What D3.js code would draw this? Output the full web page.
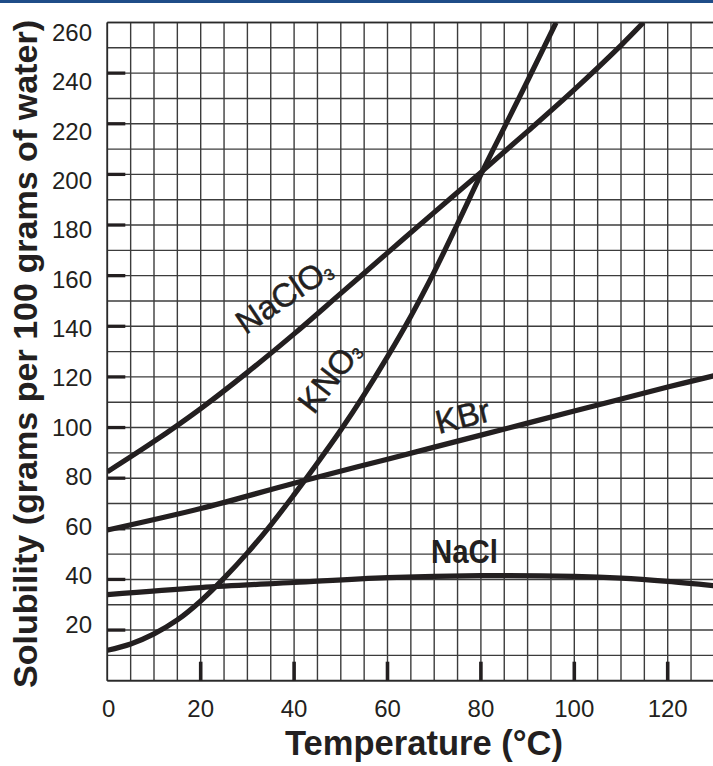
<!DOCTYPE html>
<html><head><meta charset="utf-8">
<script src="https://cdn.jsdelivr.net/npm/d3@7"></script>
<style>
body{margin:0;background:#fff}
svg{display:block}
text{font-family:"Liberation Sans",Arial,Helvetica,sans-serif;fill:#231f20}
</style>
</head><body>
<svg id="chart" width="713" height="766"></svg>
<script>
// ---------- data ----------
const xTickValues = [0, 20, 40, 60, 80, 100, 120];
const yTickValues = [20, 40, 60, 80, 100, 120, 140, 160, 180, 200, 220, 240, 260];

const naclo3Temp = [0, 10, 20, 30, 40, 50, 60, 70, 80, 90, 100, 110, 114.8];
const naclo3Sol  = [82.5, 94.5, 107.5, 121.8, 137, 153, 169, 185, 200.8, 217, 233.5, 251, 260];

const kno3Temp = [0, 5, 10, 15, 20, 25, 30, 35, 40, 45, 50, 55, 60, 65, 70, 75, 80, 85, 90, 96.1];
const kno3Sol  = [12, 14.5, 18.5, 24, 31.5, 40.5, 50.5, 61.5, 73.5, 86, 99, 113, 128, 144, 161.5, 180.5, 200, 218.5, 237, 260];

const kbrTemp = [0, 20, 40, 60, 80, 100, 120, 130];
const kbrSol  = [59.5, 68, 78, 87.5, 97, 106.5, 116, 120.5];

const naclTemp = [0, 20, 40, 60, 80, 100, 110, 120, 130];
const naclSol  = [34, 36.8, 38.8, 40.7, 41.5, 41.2, 40.5, 39.2, 37.5];

const xTitle = "Temperature (°C)";
const yTitle = "Solubility (grams per 100 grams of water)";

// ---------- drawing ----------
const ink = "#231f20";
const svg = d3.select("#chart");

const x = d3.scaleLinear().domain([0, 130]).range([107.3, 714.4]);
const y = d3.scaleLinear().domain([0, 260]).range([680.7, 22.5]);
// label positions of the printed y tick numbers (slightly different spacing in the original)
const yLab = d3.scaleLinear().domain([20, 260]).range([625, 32.5]);

// top blue band
svg.append("rect").attr("x", 0).attr("y", 0).attr("width", 713).attr("height", 3).attr("fill", "#1f4d88");

// grid
const grid = svg.append("g").attr("stroke", "#3c3c3c").attr("stroke-width", 1.4);
grid.selectAll("line.v").data(d3.range(0, 131, 5)).join("line")
  .attr("x1", d => x(d)).attr("x2", d => x(d))
  .attr("y1", y(0)).attr("y2", y(260));
grid.selectAll("line.h").data(d3.range(0, 261, 10)).join("line")
  .attr("class", "h")
  .attr("x1", x(0)).attr("x2", x(130))
  .attr("y1", d => y(d)).attr("y2", d => y(d));
// frame (left, bottom, top)
svg.append("line").attr("x1", x(0)).attr("x2", x(0)).attr("y1", y(0)).attr("y2", y(260)).attr("stroke", "#2a2a2a").attr("stroke-width", 1.7);
svg.append("line").attr("x1", x(0)).attr("x2", x(130)).attr("y1", y(0)).attr("y2", y(0)).attr("stroke", "#2a2a2a").attr("stroke-width", 1.8);
svg.append("line").attr("x1", x(0)).attr("x2", x(130)).attr("y1", y(260)).attr("y2", y(260)).attr("stroke", "#2a2a2a").attr("stroke-width", 1.6);

// tick marks inside the plot
svg.append("g").selectAll("line").data(yTickValues.filter(v => v < 260)).join("line")
  .attr("x1", x(0)).attr("x2", x(0) + 18)
  .attr("y1", d => y(d)).attr("y2", d => y(d))
  .attr("stroke", ink).attr("stroke-width", 3.3);
svg.append("g").selectAll("line").data(xTickValues.filter(v => v > 0)).join("line")
  .attr("x1", d => x(d)).attr("x2", d => x(d))
  .attr("y1", y(0)).attr("y2", y(0) - 19)
  .attr("stroke", ink).attr("stroke-width", 3.6);

// tick labels
svg.append("g").selectAll("text").data(yTickValues).join("text")
  .attr("x", 92).attr("y", d => yLab(d) + 8.3)
  .attr("text-anchor", "end").attr("font-size", 24).text(d => d);
svg.append("g").selectAll("text").data(xTickValues).join("text")
  .attr("x", d => x(d) + (d === 0 ? 1.5 : 0)).attr("y", 717)
  .attr("text-anchor", "middle").attr("font-size", 24).text(d => d);

// axis titles
svg.append("text").attr("x", 285).attr("y", 755)
  .attr("font-size", 35).attr("font-weight", "bold")
  .attr("textLength", 278).attr("lengthAdjust", "spacingAndGlyphs").text(xTitle);
svg.append("text").attr("transform", "translate(36.7,688) rotate(-90)")
  .attr("font-size", 33).attr("font-weight", "bold")
  .attr("textLength", 668).attr("lengthAdjust", "spacingAndGlyphs").text(yTitle);

// curves
svg.append("defs").append("clipPath").attr("id", "plotclip").append("rect")
  .attr("x", x(0)).attr("y", y(260)).attr("width", x(130) - x(0)).attr("height", y(0) - y(260));
const line = d3.line().x(d => x(d[0])).y(d => y(d[1])).curve(d3.curveCatmullRom.alpha(0.5));
const series = [
  d3.zip(naclo3Temp, naclo3Sol),
  d3.zip(kno3Temp, kno3Sol),
  d3.zip(kbrTemp, kbrSol),
  d3.zip(naclTemp, naclSol)
];
svg.append("g").attr("clip-path", "url(#plotclip)").selectAll("path").data(series).join("path")
  .attr("d", line).attr("fill", "none").attr("stroke", ink)
  .attr("stroke-width", 5.2).attr("stroke-linejoin", "round");

// curve labels
function curveLabel(main, sub, T, v, angle, size, weight) {
  const t = svg.append("text")
    .attr("transform", `translate(${x(T)},${y(v)}) rotate(${angle})`)
    .attr("font-size", size).attr("font-weight", weight)
    .attr("stroke", "#231f20").attr("stroke-width", 0.5);
  t.append("tspan").text(main);
  if (sub) t.append("tspan").attr("font-size", 16).attr("dy", 2).text(sub);
  return t;
}
curveLabel("NaClO", "3", 29.6, 136.5, -34, 33, "normal");
curveLabel("KNO", "3", 44.2, 104.8, -52, 33, "normal");
curveLabel("KBr", null, 71.0, 97.5, -14, 33, "normal");
curveLabel("NaCl", null, 69.3, 46.3, 0, 34, "bold")
  .attr("stroke-width", 0).attr("textLength", 67).attr("lengthAdjust", "spacingAndGlyphs");
</script>
</body></html>
